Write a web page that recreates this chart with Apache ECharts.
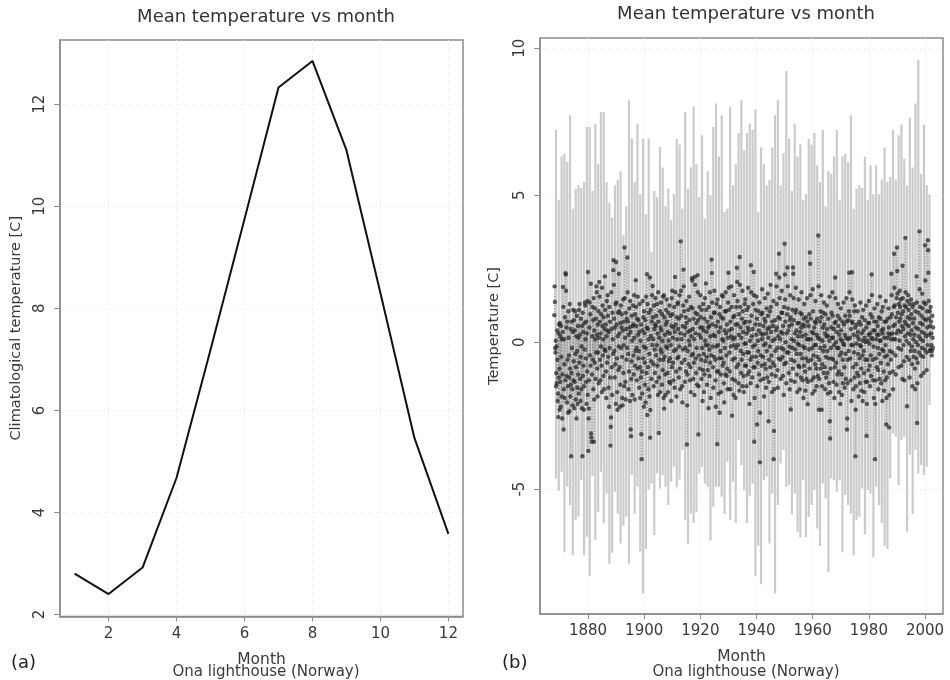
<!DOCTYPE html>
<html><head><meta charset="utf-8">
<script src="https://cdn.jsdelivr.net/npm/echarts@6/dist/echarts.min.js"></script>
<style>html,body{margin:0;padding:0;background:#fff}#c{width:950px;height:680px}</style>
</head><body><div id="c"></div>
<script>
const months = [1,2,3,4,5,6,7,8,9,10,11,12];
const climatology = [2.8,2.4,2.92,4.68,7.19,9.75,12.33,12.85,11.1,8.3,5.46,3.58];
const monthTicks = [2,4,6,8,10,12];
const climTicks = [2,4,6,8,10,12];
const yearTicks = [1880,1900,1920,1940,1960,1980,2000];
const anomTicks = [-5,0,5,10];
const firstYear = 1868;
const yearlyHigh = [
7.23,4.85,6.32,6.41,6.13,7.72,4.54,5.22,5.34,5.25,
5.45,7.32,7.32,5.14,7.43,6.05,7.83,7.83,5.45,4.74,
4.24,5.34,5.53,5.82,3.64,4.63,8.23,6.92,5.45,7.43,
5.03,6.92,4.35,6.92,3.07,5.14,4.94,6.64,5.94,4.63,
5.22,4.15,5.03,6.92,6.73,4.54,7.83,5.22,5.94,8.02,
6.05,4.94,7.04,4.2,5.82,
5.0,7.32,8.12,6.32,7.72,4.43,4.54,8.02,5.34,6.05,
7.12,8.23,6.53,7.12,7.43,7.23,7.92,4.43,6.62,6.05,
5.34,5.53,6.62,7.72,8.23,5.34,6.44,9.23,6.92,5.14,
7.43,6.32,6.73,4.83,5.03,6.92,6.73,7.13,6.02,5.45,
7.23,4.63,5.82,5.73,6.32,7.23,4.83,6.32,6.41,6.13,
7.72,4.54,5.22,5.34,5.25,6.32,4.85,6.02,5.03,6.02,
5.03,5.53,6.62,5.45,5.62,7.23,5.53,7.04,7.41,6.24,
5.34,7.64,5.94,8.12,9.61,5.73,7.41,5.34,5.03];
const yearlyLow = [
-4.64,-5.06,-4.41,-7.15,-4.92,-5.54,-7.25,-6.05,-5.94,-4.7,
-7.25,-6.62,-7.95,-4.56,-6.73,-5.77,-4.41,-6.15,-5.15,-7.55,
-7.17,-5.09,-5.83,-6.85,-6.25,-5.94,-7.55,-4.52,-5.83,-4.92,
-7.13,-8.55,-7.04,-5.03,-4.81,-6.56,-4.47,-4.98,-4.52,-4.92,
-5.54,-4.75,-4.24,-4.94,-4.67,-3.67,-6.05,-6.85,-5.83,-6.15,
-5.77,-4.47,-4.24,-4.81,-4.92,-6.76,-5.6,-4.92,
-4.92,-5.26,-5.85,-4.07,-6.05,-4.75,-6.15,-3.33,-4.18,-5.03,
-6.15,-5.24,-4.81,-7.95,-6.93,-8.24,-4.7,-4.58,-6.85,-5.15,
-8.55,-5.54,-4.13,-3.67,-4.92,-4.86,-5.85,-5.15,-6.45,-6.64,
-4.7,-6.64,-5.94,-5.54,-5.03,-6.34,-6.94,-4.81,-5.32,-7.83,
-4.64,-4.7,-5.09,-4.7,-7.15,-5.2,-5.54,-5.83,-7.25,-6.05,
-5.94,-4.98,-6.54,-5.03,-5.15,-7.32,-4.92,-5.54,-6.15,-6.94,
-7.04,-4.64,-3.11,-3.22,-4.86,-3.33,-3.22,-6.45,-3.84,-5.85,
-3.67,-4.47,-4.18,-4.52,-4.24,-2.14];
const monthlyAnomalyByYear = [
[0.92,1.9,1.37,-0.2,-0.35,0.05,-1.5,-1.05,-0.15,-1.4],
[0.4,-0.6,-2.0,-1.75,-2.55,0.3,-1.2,0.6,-0.9,-2.3],
[0.65,-1.35,0.2,-2.2,0.55,-0.5,-1.85,0.1,-2.6,-1.1],
[0.35,1.88,1.2,-2.97,-1.6,0.1,-0.75,-1.9,0.85,-1.3],
[2.35,2.3,1.75,0.5,-1.15,-2.05,0.7,-0.6,-1.5,-2.4],
[1.05,0.15,-0.45,-1.2,-2.35,1.3,-0.9,-1.85,0.45,-1.45],
[-3.88,-1.05,0.7,-0.2,-1.6,-2.15,0.35,1.1,-1.3,-0.65],
[0.75,-2.25,-1.35,0.4,1.05,-0.4,-1.95,-0.85,0.2,-2.6],
[0.9,-0.3,-1.55,-2.1,0.55,-1.1,0.15,-1.75,1.1,-0.7],
[1.3,0.25,-1.25,-2.0,-0.5,0.8,-1.6,-0.15,-2.25,0.55],
[-3.88,1.0,-1.15,0.35,-0.8,-2.3,-1.5,0.65,-0.25,1.35],
[1.25,0.1,-0.55,-1.35,0.7,-2.1,0.3,-1.0,1.4,-1.8],
[2.39,-3.7,-2.6,-2.26,-1.3,0.5,1.35,-0.45,0.95,-0.8],
[1.99,-3.11,-3.24,-3.39,-1.1,0.2,1.2,-0.6,0.75,-1.6],
[1.5,-3.39,-1.95,0.4,-0.7,1.15,0.1,-1.25,0.8,-0.35],
[1.9,1.7,0.25,-0.9,-1.85,0.6,-0.35,1.05,-1.4,0.15],
[2.05,1.55,0.7,-0.6,-1.3,0.3,-0.15,0.95,-0.8,-1.7],
[1.85,0.55,1.25,-0.45,0.1,-1.15,0.85,-1.6,0.45,-0.25],
[2.24,1.1,-0.3,0.6,-1.0,-1.9,0.2,1.4,-0.7,0.4],
[1.6,0.9,-0.5,-1.55,0.35,-2.2,1.2,-0.2,0.7,-1.2],
[-3.52,-2.88,-2.56,1.7,0.45,-0.85,-1.8,1.0,0.1,-0.4],
[2.45,2.79,1.95,0.8,-0.3,-1.2,0.5,-0.75,1.3,-2.1],
[2.73,1.35,0.6,-0.55,-1.7,-2.3,0.2,1.0,-0.95,-0.15],
[2.33,1.05,0.3,-0.85,-2.2,-1.45,0.65,1.25,-0.2,0.5],
[0.95,-0.5,-1.9,-2.15,0.4,1.45,-1.05,-0.1,0.7,-1.5],
[3.22,1.5,0.15,-1.35,-1.95,1.0,0.45,-0.6,0.8,-0.2],
[2.88,1.7,0.7,-0.4,-1.6,0.25,-1.0,1.15,0.5,-2.0],
[1.4,0.35,-2.97,-3.2,-1.25,-0.65,0.9,0.05,-1.8,0.55],
[1.25,0.6,-0.45,-1.1,1.6,0.15,-1.95,-0.8,0.95,-0.3],
[2.11,1.2,0.55,-0.2,-1.3,0.8,-0.9,1.55,0.25,-0.55],
[0.75,-0.3,-1.55,0.35,1.3,-0.85,-1.9,0.05,-1.2,0.6],
[-3.13,-3.98,-1.0,-1.75,0.4,1.4,-0.55,0.85,-0.15,-2.2],
[1.05,0.3,-0.7,-1.45,0.75,-2.05,-0.2,1.55,-1.05,0.5],
[2.31,-2.48,1.3,0.45,-0.85,-1.6,0.1,1.0,-0.4,-1.85],
[2.2,-3.25,-2.31,1.1,0.2,-0.65,-1.25,0.7,1.6,-0.1],
[1.91,0.85,0.1,-0.75,-1.5,1.25,0.45,-0.25,-1.05,0.6],
[1.5,0.55,-0.45,0.9,-1.35,-0.1,1.3,-0.8,0.3,-1.8],
[1.7,0.7,-3.09,-1.2,0.15,-0.6,1.05,-1.7,0.5,-0.25],
[1.35,0.4,-0.35,-1.45,0.95,0.05,-0.95,1.55,-0.6,-1.9],
[1.6,-2.26,0.85,-0.5,0.25,-1.1,-1.8,0.6,1.1,-0.15],
[1.45,0.7,-0.2,-1.05,0.35,-1.7,1.0,0.05,-0.65,-1.35],
[1.25,0.3,-0.55,-1.4,0.9,-0.1,-2.0,0.55,1.5,-0.85],
[1.75,0.95,0.15,-0.7,-1.3,0.5,-0.3,1.2,-1.55,0.35],
[2.22,1.7,0.6,-0.25,-1.0,-1.85,0.85,0.1,-0.55,1.3],
[1.35,0.45,-0.5,-1.2,0.8,-0.15,1.6,-0.9,-1.6,0.3],
[3.43,1.75,0.9,0.1,-0.7,-1.5,-2.05,0.55,-0.25,1.25],
[2.47,1.9,1.05,0.25,-0.6,-1.35,0.5,-0.2,0.85,-1.0],
[1.4,0.65,-3.48,-2.15,-1.1,-0.3,0.35,1.1,-0.75,0.05],
[1.55,0.75,-0.1,-1.3,0.4,-0.85,-1.7,1.2,0.2,-0.45],
[2.18,2.1,1.15,0.45,-0.4,-1.25,0.8,-0.7,0.1,-1.8],
[2.22,1.95,1.0,0.3,-0.55,-1.05,0.65,-0.2,-1.45,0.95],
[2.28,1.7,0.75,-3.14,-1.5,-0.45,0.25,1.2,-0.9,0.5],
[1.6,0.85,0.15,-0.6,-1.25,1.1,-0.2,0.5,-2.0,-0.95],
[1.3,0.4,-0.4,-1.7,0.8,-1.1,1.5,0.05,-0.65,-0.1],
[2.0,1.1,0.35,-0.5,-1.45,0.7,-0.95,-0.1,0.5,-2.25],
[1.2,0.55,-0.25,-1.15,1.7,-0.7,0.2,-1.9,0.85,-0.45],
[2.81,2.35,1.35,0.6,-0.15,-0.85,-1.55,0.25,1.0,-0.5],
[1.75,1.0,0.2,-0.6,-1.3,-2.2,0.55,-0.15,1.3,-1.0],
[-3.47,1.45,0.7,-0.1,-1.0,-1.75,0.35,-0.55,0.95,-2.4],
[1.2,0.5,-0.3,-1.1,-1.7,0.85,-0.55,1.6,0.1,-0.8],
[1.55,0.8,0.05,-0.7,-1.4,-2.05,0.4,-0.2,1.05,-1.1],
[1.7,1.05,0.3,-0.45,-1.15,0.6,-0.9,-1.6,0.15,1.35],
[2.36,1.85,1.1,0.4,-0.35,-1.0,-1.6,0.7,-0.15,0.2],
[1.9,1.2,0.45,-2.5,-1.25,-0.6,0.1,0.85,-1.8,-0.1],
[1.6,0.9,0.15,-0.55,-1.3,-1.9,0.6,-0.2,1.2,-0.85],
[2.53,2.05,1.4,0.6,-0.1,-0.75,-1.4,0.25,0.95,-1.65],
[2.9,1.95,1.2,0.5,-0.3,-1.05,0.15,-0.6,0.8,-1.5],
[1.75,1.05,0.35,-0.4,-1.15,-1.7,0.65,-0.05,1.3,-0.8],
[1.45,0.7,-0.05,-0.8,-1.5,0.3,1.1,-0.35,-1.1,0.5],
[1.85,1.2,0.4,-0.35,-1.0,-2.1,0.7,0.05,-0.6,-1.4],
[2.62,1.7,0.9,0.2,-0.5,-1.2,0.45,-0.15,1.3,-0.85],
[2.39,1.6,-3.39,-1.9,-0.85,-0.1,0.6,1.1,-0.5,0.25],
[1.55,0.8,-2.8,-1.5,-0.7,0.05,-0.3,1.05,0.4,-1.1],
[1.35,0.6,-4.09,-2.4,-1.3,-0.45,0.3,0.95,-0.8,0.1],
[1.8,1.0,0.25,-0.5,-1.25,0.55,-0.1,-1.85,0.8,-0.75],
[1.5,0.7,-0.05,-0.9,-1.55,0.3,1.15,-0.3,-1.2,0.45],
[1.65,0.9,0.15,-2.69,-1.35,-0.6,0.5,-0.15,1.05,-0.85],
[1.95,1.2,0.35,-0.45,-1.1,-1.7,0.7,0.05,-0.7,0.55],
[1.4,-3.98,-3.02,-1.6,-0.8,0.1,0.75,-0.3,-1.15,0.4],
[2.33,1.9,1.3,0.5,-0.2,-0.95,-1.55,0.2,0.85,-0.55],
[3.01,2.2,1.5,0.8,0.1,-0.6,-1.25,0.35,-0.2,1.0],
[1.75,1.0,0.3,-0.5,-1.15,0.55,-0.25,-1.8,1.2,-0.75],
[3.35,2.3,1.45,0.7,0.0,-0.7,-1.4,0.3,-0.35,0.95],
[2.54,1.9,1.15,0.4,-0.35,-1.05,0.55,-0.15,-1.6,0.75],
[1.6,0.85,-2.29,-1.3,-0.6,0.1,0.6,-0.2,1.1,-0.9],
[2.54,2.33,1.5,0.75,0.05,-0.65,-1.35,0.3,-0.25,1.0],
[1.85,1.1,0.4,-0.4,-1.1,-1.7,0.65,-0.05,0.2,-0.8],
[1.45,0.65,-0.1,-0.85,-1.6,0.35,1.0,-0.4,-1.2,0.5],
[1.7,0.95,0.2,-0.55,-1.3,0.6,-0.15,-1.9,0.8,-0.8],
[1.3,0.55,-0.2,-1.0,-1.65,0.25,0.85,-0.55,-1.25,0.1],
[1.5,0.7,-2.11,-1.35,-0.65,0.1,0.55,-0.25,0.95,-0.9],
[3.05,2.67,1.6,0.8,0.1,-0.6,-1.3,0.35,-0.2,-1.75],
[1.8,1.05,0.3,-0.45,-1.2,0.5,-0.1,-1.65,0.7,-0.75],
[1.4,0.65,-0.1,-0.9,-1.5,0.25,0.8,-0.5,-1.15,0.15],
[3.63,1.9,-2.3,-1.25,-0.6,0.1,0.7,-0.2,1.05,-0.9],
[1.6,0.85,-2.3,-1.5,-0.75,0.05,0.5,-0.3,1.0,-1.05],
[1.35,0.6,-0.15,-0.85,-1.6,0.3,0.95,-0.5,-1.2,0.2],
[1.25,0.45,-0.3,-1.05,-1.75,0.2,0.8,-0.55,-1.4,0.05],
[1.55,-2.69,-3.28,-1.7,-0.9,-0.2,0.5,1.0,-0.55,0.15],
[1.7,0.9,0.15,-0.6,-1.35,0.45,-0.1,-1.9,0.65,-0.85],
[2.2,1.5,0.7,0.0,-0.7,-1.45,0.35,-0.2,-1.1,0.9],
[1.3,0.55,-0.2,-1.0,-1.7,0.25,0.8,-0.45,-2.1,0.1],
[1.15,0.4,-0.35,-1.1,-1.8,0.05,0.7,-0.6,-1.4,-0.05],
[1.35,0.6,-0.1,-0.85,-1.55,0.25,0.9,-0.4,-1.25,0.15],
[1.5,0.7,-2.97,-2.6,-1.4,-0.6,0.1,0.75,-0.3,1.05],
[2.36,1.7,0.9,0.15,-0.55,-1.3,0.45,-0.1,-2.0,0.7],
[2.38,1.45,0.65,-0.1,-0.85,-1.6,0.25,-0.35,1.05,-1.2],
[1.25,0.5,-3.88,-2.3,-1.5,-0.75,-0.05,0.6,-1.05,0.2],
[1.05,0.35,-0.4,-1.15,-1.85,0.1,0.7,-0.55,-1.4,-0.1],
[1.35,0.6,-0.15,-0.9,-1.65,0.3,0.85,-0.45,-2.0,0.05],
[1.1,0.4,-0.3,-1.05,-1.7,0.15,0.75,-0.6,-1.35,0.0],
[1.25,0.5,-3.19,-2.1,-1.35,-0.6,0.05,0.65,-0.95,0.25],
[1.4,0.65,-0.05,-0.8,-1.5,0.3,0.95,-0.45,-1.15,0.15],
[2.3,1.6,0.85,0.1,-0.6,-1.3,0.4,-0.15,-1.9,0.7],
[1.15,0.4,-3.98,-2.1,-1.3,-0.55,0.1,0.7,-0.85,0.25],
[1.3,0.55,-0.2,-0.95,-1.6,0.25,0.85,-0.4,-1.25,0.05],
[1.55,0.8,0.05,-0.7,-1.4,0.4,1.05,-0.25,-2.0,0.3],
[1.2,0.45,-0.3,-1.0,-1.65,0.15,0.7,-0.5,-1.3,-0.1],
[1.4,0.7,-2.8,-1.9,-1.2,-0.45,0.15,0.8,-0.75,0.3],
[1.15,0.5,-2.9,-1.8,-1.05,-0.3,0.25,0.85,-0.6,0.1],
[2.33,1.6,0.95,0.3,-0.35,-1.0,-1.6,0.55,0.1,1.2],
[3.01,1.85,1.25,0.6,0.1,-0.45,-1.1,0.85,0.3,1.5],
[3.22,2.42,1.65,1.0,0.4,-0.2,-0.85,1.3,0.7,0.05],
[1.75,1.2,0.8,1.45,0.35,-0.25,-0.8,0.95,0.55,-1.25],
[2.6,1.5,1.05,0.45,-0.1,-0.65,-1.3,1.25,0.7,0.2],
[3.55,1.7,1.2,0.6,0.05,-0.5,-2.18,1.4,0.85,0.3],
[1.6,1.1,0.55,-0.05,-0.6,-1.2,1.3,0.8,0.25,-0.3],
[1.45,0.95,0.4,-0.15,-0.75,-1.5,1.2,0.65,0.1,-0.5],
[1.3,0.8,0.25,-0.3,-0.9,-1.6,1.05,0.5,0.0,-0.55],
[2.24,1.35,-2.75,-1.4,-0.7,-0.1,0.45,1.0,0.2,-0.35],
[3.77,1.8,1.2,0.65,0.1,-0.45,-1.15,0.9,0.35,-0.2],
[1.65,1.15,0.6,0.05,-0.5,-1.05,1.35,0.8,0.3,-0.25],
[3.3,2.1,1.3,0.75,0.2,-0.35,-0.95,1.05,0.5,-0.1],
[3.47,3.13,2.36,1.4,0.8,0.25,-0.3,1.05,0.55,-0.25],
[1.2,0.7,0.3,-0.1,-0.45,-0.3,0.9,0.15,-0.2,0.5]];

const spikes = yearlyHigh.map((h, i) => [firstYear + i + 0.6, yearlyLow[i], h]);
const anomalyPoints = [];
monthlyAnomalyByYear.forEach((row, i) => row.forEach((v, k) => anomalyPoints.push([firstYear + i + k / row.length, v])));

const FONT = '"DejaVu Sans", sans-serif';
const TXT = '#3a3a3a';
const AXC = '#8c8c8c';
function xAx(idx, min, max, ticks, name) {
  return {gridIndex: idx, type:'value', min, max, name, nameLocation:'middle', nameGap:35,
    nameTextStyle:{fontFamily:FONT,fontSize:15.5,color:TXT},
    axisLine:{show:true,onZero:false,lineStyle:{color:AXC,width:1.5}},
    axisTick:{show:true,length:5,customValues:ticks,lineStyle:{color:AXC,width:1}},
    axisLabel:{customValues:ticks,margin:10,fontFamily:FONT,fontSize:15,color:TXT,formatter:v=>String(v)},
    splitLine:{show:true,lineStyle:{color:'#e4e4e4',type:[1,3],width:1}}};
}
function yAx(idx, min, max, ticks, name, gap) {
  return {gridIndex: idx, type:'value', min, max, name, nameLocation:'middle', nameGap:gap,
    nameTextStyle:{fontFamily:FONT,fontSize:14.5,color:TXT},
    axisLine:{show:true,onZero:false,lineStyle:{color:AXC,width:1.5}},
    axisTick:{show:true,length:6,customValues:ticks,lineStyle:{color:AXC,width:1}},
    axisLabel:{customValues:ticks,rotate:90,margin:12,fontFamily:FONT,fontSize:15,color:TXT,formatter:v=>String(v)},
    splitLine:{show:true,lineStyle:{color:'#e4e4e4',type:[1,3],width:1}}};
}
const titleText = 'Mean temperature vs month';
const subText = 'Ona lighthouse (Norway)';
const chart = echarts.init(document.getElementById('c'), null, {renderer:'canvas'});
chart.setOption({
  animation:false,
  backgroundColor:'#fff',
  title:[
    {text:titleText,left:261,top:3,textAlign:'center',textStyle:{fontFamily:FONT,fontSize:18,fontWeight:'normal',color:'#333'}},
    {text:titleText,left:741,top:0,textAlign:'center',textStyle:{fontFamily:FONT,fontSize:18,fontWeight:'normal',color:'#333'}},
    {text:subText,left:261,top:660,textAlign:'center',textStyle:{fontFamily:FONT,fontSize:15,fontWeight:'normal',color:TXT}},
    {text:subText,left:741,top:660,textAlign:'center',textStyle:{fontFamily:FONT,fontSize:15,fontWeight:'normal',color:TXT}},
    {text:'(a)',left:6,top:649,textStyle:{fontFamily:FONT,fontSize:18,fontWeight:'normal',color:'#222'}},
    {text:'(b)',left:497,top:649,textStyle:{fontFamily:FONT,fontSize:18,fontWeight:'normal',color:'#222'}}
  ],
  grid:[
    {left:60,top:40,width:403,height:576.5,show:true,borderColor:AXC,borderWidth:1.5,backgroundColor:'#fff'},
    {left:540,top:38,width:403,height:576,show:true,borderColor:AXC,borderWidth:1.5,backgroundColor:'#fff'}
  ],
  xAxis:[xAx(0,0.57,12.43,monthTicks,'Month'),xAx(1,1862.9,2006.4,yearTicks,'Month')],
  yAxis:[yAx(0,1.96,13.26,climTicks,'Climatological temperature [C]',36),yAx(1,-9.25,10.35,anomTicks,'Temperature [C]',38)],
  series:[
    {type:'line',xAxisIndex:0,yAxisIndex:0,data:months.map((m,i)=>[m,climatology[i]]),showSymbol:false,
      lineStyle:{color:'#111',width:2}},
    {type:'custom',xAxisIndex:1,yAxisIndex:1,data:spikes,encode:{x:0,y:[1,2]},silent:true,
      renderItem:(p,api)=>{const a=api.coord([api.value(0),api.value(1)]),b=api.coord([api.value(0),api.value(2)]);
        return {type:'line',shape:{x1:a[0],y1:a[1],x2:b[0],y2:b[1]},style:{stroke:'#cbcbcb',lineWidth:2.2,fill:null}};}},
    {type:'line',xAxisIndex:1,yAxisIndex:1,data:anomalyPoints,showAllSymbol:true,symbol:'circle',symbolSize:4.4,
      itemStyle:{color:'#222',opacity:0.72},lineStyle:{color:'#666',width:0.7,type:[1,2],opacity:0.75},silent:true}
  ]
});
</script></body></html>
